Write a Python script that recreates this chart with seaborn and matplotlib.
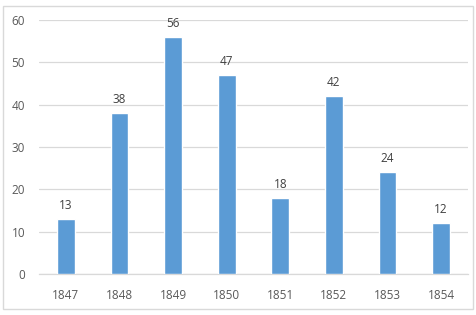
import matplotlib
matplotlib.use("Agg")
import matplotlib.pyplot as plt
import seaborn as sns
import pandas as pd
from matplotlib.patches import Rectangle

years = ["1847", "1848", "1849", "1850", "1851", "1852", "1853", "1854"]
values = [13, 38, 56, 47, 18, 42, 24, 12]

sns.set_style("white")
plt.rcParams['font.family'] = ['Open Sans', 'DejaVu Sans']

fig = plt.figure(figsize=(4.77, 3.15), dpi=100)
ax = fig.add_axes([39/477, 1-274/315, (468-39)/477, (274-20)/315])

df = pd.DataFrame({"year": years, "value": values})
sns.barplot(data=df, x="year", y="value", color="#5B9BD5", saturation=1, width=0.33, ax=ax, zorder=3)

ax.set_ylim(0, 60)
ax.set_yticks(range(0, 61, 10))
ax.yaxis.grid(True, color="#D9D9D9", linewidth=0.9, zorder=0)
ax.set_axisbelow(True)
for s in ["top", "right", "left"]:
    ax.spines[s].set_visible(False)
ax.spines["bottom"].set_color("#D9D9D9")
ax.spines["bottom"].set_linewidth(0.9)
ax.set_xlabel("")
ax.set_ylabel("")
ax.tick_params(axis="both", length=0, labelsize=8.5, colors="#595959")
ax.tick_params(axis="x", pad=11)
ax.tick_params(axis="y", pad=10)

for c in ax.containers:
    ax.bar_label(c, labels=[str(v) for v in values], padding=5, fontsize=8.5, color="#404040")

fig.patches.append(Rectangle((3/477, 6/315), 470/477, 303/315, transform=fig.transFigure,
                             fill=False, edgecolor="#D9D9D9", linewidth=1))

fig.savefig("out.png", dpi=100)
